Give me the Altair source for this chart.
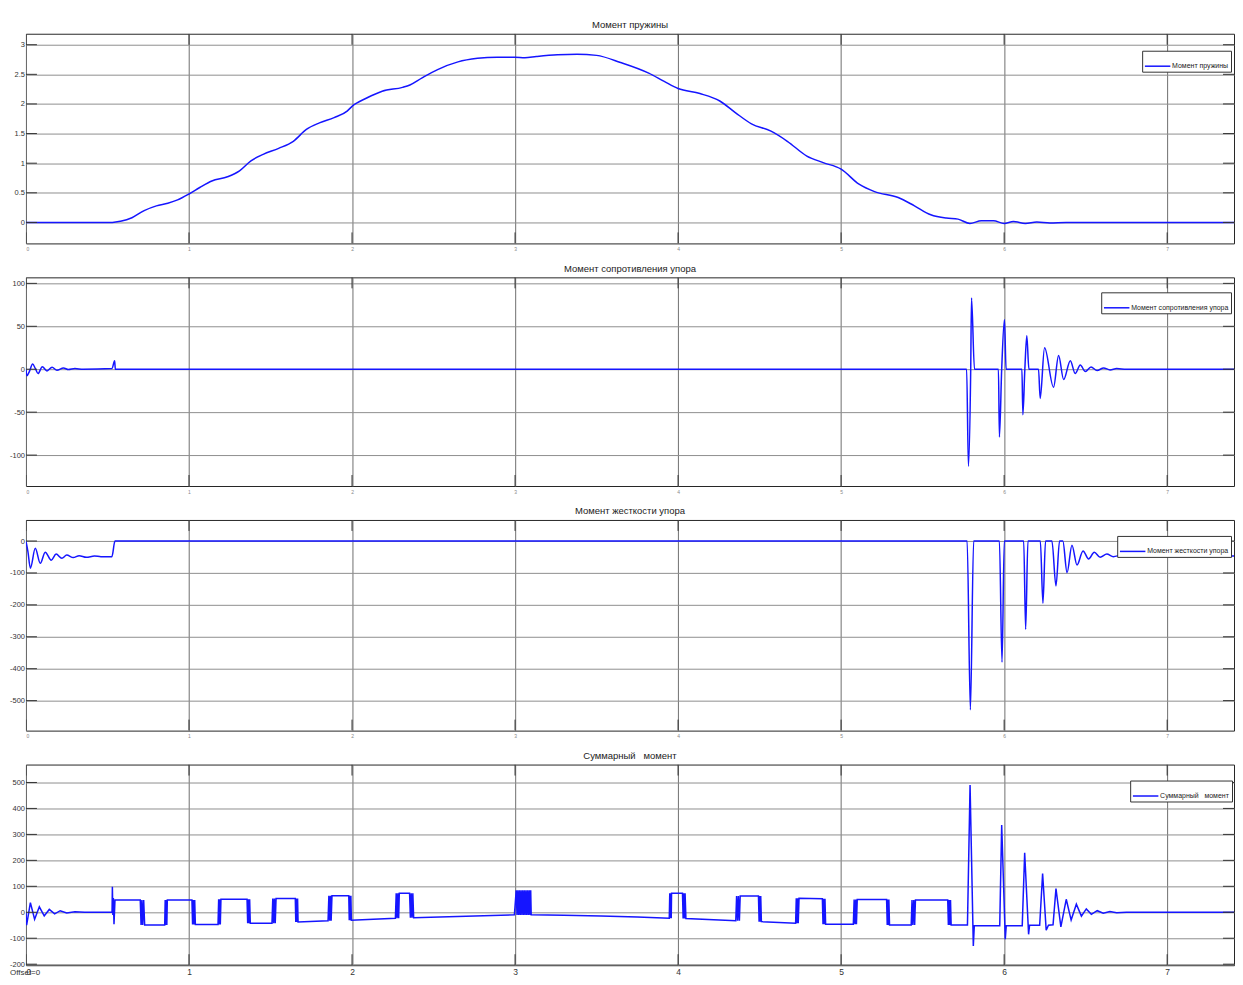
import altair as alt
import pandas as pd

FONT = "Liberation Sans, Arial, sans-serif"
BLUE = "#1515ff"
X_MAX = 7.41
W = 1210
X_TICKS = [0, 1, 2, 3, 4, 5, 6, 7]

# ---------------- Panel 1: Момент пружины ----------------
spring_t = [0.0, 0.53, 0.58, 0.65, 0.725, 0.80, 0.87, 0.93, 1.0, 1.066, 1.14, 1.236, 1.31, 1.38,
            1.455, 1.55, 1.64, 1.72, 1.80, 1.89, 1.97, 2.0, 2.09, 2.185, 2.31, 2.355, 2.43, 2.525,
            2.65, 2.77, 2.89, 3.0, 3.06, 3.13, 3.26, 3.38, 3.5, 3.647, 3.82, 3.915, 4.0, 4.134,
            4.256, 4.353, 4.45, 4.57, 4.67, 4.79, 4.89, 5.0, 5.11, 5.205, 5.35, 5.45, 5.55, 5.645,
            5.717, 5.79, 5.86, 5.935, 6.0, 6.057, 6.13, 6.2, 6.28, 6.38, 7.5]
spring_v = [0.0, 0.0, 0.02, 0.08, 0.2, 0.28, 0.325, 0.38, 0.48, 0.59, 0.70, 0.77, 0.87, 1.04,
            1.15, 1.25, 1.37, 1.57, 1.68, 1.77, 1.88, 1.96, 2.10, 2.215, 2.28, 2.32, 2.44, 2.58,
            2.71, 2.77, 2.79, 2.79, 2.78, 2.80, 2.83, 2.84, 2.82, 2.70, 2.52, 2.38, 2.26, 2.175,
            2.05, 1.85, 1.665, 1.54, 1.37, 1.12, 1.01, 0.90, 0.645, 0.52, 0.42, 0.28, 0.13, 0.073,
            0.056, -0.017, 0.028, 0.028, -0.017, 0.017, -0.017, 0.006, -0.01, 0.0, 0.0]

# ---------------- Panel 2: Момент сопротивления упора ----------------
resist_t = [0.0, 0.006, 0.020, 0.041, 0.057, 0.074, 0.100, 0.129, 0.160, 0.190, 0.230, 0.260,
            0.300, 0.350, 0.528, 0.538, 0.544, 0.548, 5.770, 5.781, 5.795, 5.800, 5.818, 5.965,
            5.971, 5.985, 6.002, 6.012, 6.109, 6.115, 6.127, 6.139, 6.152, 6.211, 6.221, 6.248,
            6.303, 6.334, 6.365, 6.406, 6.436, 6.467, 6.498, 6.533, 6.570, 6.610, 6.650, 6.690,
            6.750, 7.5]
resist_v = [0.0, -7.7, -3.0, 6.0, 1.0, -5.0, 3.0, -2.0, 2.3, -1.2, 1.5, -0.4,
            0.8, 0.0, 0.8, 7.0, 10.0, 0.0, 0.0, -113.0, 0.0, 83.0, 0.0, 0.0,
            -79.0, 0.0, 58.0, 0.0, 0.0, -53.0, 0.0, 39.0, 0.0, 0.0, -34.0, 25.0,
            -21.0, 16.0, -12.0, 10.0, -5.0, 5.0, -2.7, 2.7, -1.5, 1.5, -0.8, 0.8,
            0.0, 0.0]

# ---------------- Panel 3: Момент жесткости упора ----------------
stiff_t = [0.0, 0.012, 0.027, 0.057, 0.088, 0.118, 0.155, 0.185, 0.22, 0.25, 0.29, 0.326, 0.37,
           0.42, 0.46, 0.527, 0.546, 5.773, 5.793, 5.813, 5.971, 5.987, 6.001, 6.120, 6.132,
           6.146, 6.222, 6.238, 6.254, 6.293, 6.318, 6.340, 6.360, 6.386, 6.416, 6.447, 6.484,
           6.518, 6.553, 6.589, 6.630, 6.670, 6.720, 6.770, 6.850, 7.5]
stiff_v = [0.0, -33.0, -85.0, -23.0, -70.0, -35.0, -60.0, -41.0, -54.0, -44.0, -52.0, -46.0, -51.0,
           -47.0, -49.0, -49.0, 0.0, 0.0, -529.0, 0.0, 0.0, -380.0, 0.0, 0.0, -277.0,
           0.0, 0.0, -195.0, 0.0, 0.0, -141.0, 0.0, 0.0, -99.0, -13.0, -75.0, -31.0,
           -56.0, -35.0, -51.0, -41.0, -49.0, -44.0, -48.0, -46.0, -47.0]

# ---------------- Panel 4: Суммарный момент ----------------
total_t = [
    0.000, 0.004, 0.027, 0.053, 0.082, 0.112, 0.143, 0.176, 0.210, 0.250, 0.300, 0.360, 0.528,
    0.530, 0.533, 0.536, 0.540, 0.546,
    0.701, 0.706, 0.711, 0.716, 0.722, 0.728,
    0.851, 0.854, 0.857, 0.861, 0.864, 0.867,
    1.018, 1.022, 1.026, 1.031, 1.035, 1.039,
    1.178, 1.182, 1.185, 1.189, 1.192, 1.196,
    1.356, 1.360, 1.364, 1.368, 1.372, 1.376,
    1.509, 1.514, 1.519, 1.524, 1.529, 1.534,
    1.652, 1.655, 1.659, 1.662, 1.666, 1.669,
    1.853, 1.858, 1.863, 1.868, 1.872, 1.877,
    1.980, 1.983, 1.987, 1.990, 1.993, 1.996,
    2.266, 2.271, 2.276, 2.281, 2.286, 2.290,
    2.353, 2.358, 2.363, 2.368, 2.373, 2.378,
    2.700, 2.996,
    3.007, 3.012, 3.017, 3.022, 3.027, 3.032, 3.037, 3.042, 3.047, 3.052,
    3.057, 3.062, 3.067, 3.072, 3.077, 3.082, 3.087, 3.092, 3.096, 3.099,
    3.300, 3.527, 3.750, 3.946,
    3.949, 3.952, 3.955, 3.958, 3.960,
    4.027, 4.031, 4.035, 4.039, 4.043, 4.048,
    4.354, 4.359, 4.365, 4.370, 4.376, 4.381,
    4.493, 4.497, 4.500, 4.504, 4.507, 4.511,
    4.721, 4.725, 4.729, 4.733, 4.737, 4.742,
    4.885, 4.889, 4.893, 4.897, 4.901, 4.905,
    5.075, 5.080, 5.085, 5.090, 5.094, 5.099,
    5.279, 5.283, 5.286, 5.290, 5.293, 5.297,
    5.430, 5.435, 5.440, 5.446, 5.451, 5.456,
    5.654, 5.658, 5.662, 5.667, 5.671, 5.675,
    5.775, 5.791, 5.811, 5.817, 5.973, 5.985, 6.007, 6.013, 6.111, 6.126, 6.150, 6.156,
    6.218, 6.236, 6.258, 6.272, 6.300, 6.318, 6.348, 6.381, 6.411, 6.443, 6.474, 6.504,
    6.535, 6.571, 6.608, 6.649, 6.690, 6.750, 7.500]
total_v = [
    0, -50, 37, -27, 21, -14, 11, -6, 6, -3, 2, 0, 0,
    98, -10, 55, -46, 47,
    47, -49, 47, -49, 47, -49,
    -49, 47, -49, 47, -49, 47,
    47, -47, 47, -47, 47, -47,
    -47, 50, -47, 50, -47, 50,
    50, -42, 50, -42, 50, -42,
    -42, 53, -42, 53, -42, 53,
    53, -37, 53, -37, 53, -37,
    -33, 64, -33, 64, -33, 64,
    64, -31, 64, -31, 64, -31,
    -23, 73, -23, 73, -23, 73,
    73, -21, 73, -21, 73, -21,
    -15, -10,
    85, -10, 85, -10, 85, -10, 85, -10, 85, -10,
    85, -10, 85, -10, 85, -10, 85, -10, 85, -10,
    -11, -14, -18, -23,
    73, -23, 73, -23, 73,
    73, -24, 73, -24, 73, -24,
    -33, 63, -33, 63, -33, 63,
    63, -36, 63, -36, 63, -36,
    -42, 54, -42, 54, -42, 54,
    52, -46, 52, -46, 52, -46,
    -46, 49, -46, 49, -46, 49,
    49, -49, 49, -49, 49, -49,
    -49, 47, -49, 47, -49, 47,
    47, -49, 47, -49, 47, -49,
    -49, 490, -130, -52, -52, 336, -104, -52, -52, 229, -85, -50,
    -50, 149, -69, -50, -48, 91, -56, 50, -30, 31, -15, 13,
    -8, 6, -4, 2.5, -1.5, 0, 0]

MINUS_FIX = "replace(datum.label, '\u2212', '-')"
TICK_LEN = 11


def panel(t, v, name, ydom, yticks, yfmt, h, lx, ly, bottom, interp):
    df = pd.DataFrame({"t": t, "v": v, "s": [name] * len(t), "i": list(range(len(t)))})
    xscale = alt.Scale(domain=[0, X_MAX], nice=False, zero=False)
    yscale = alt.Scale(domain=ydom, nice=False, zero=False)
    if bottom:
        xaxis = alt.Axis(values=X_TICKS, title=None, grid=True, ticks=False, domain=False,
                         labelFontSize=8.5, labelPadding=2, labelColor="#333333", labelFont=FONT)
    else:
        xaxis = alt.Axis(values=X_TICKS, title=None, grid=True, ticks=False, domain=False,
                         labelFontSize=5, labelPadding=3, labelColor="#888888", labelFont=FONT)
    yaxis = alt.Axis(values=yticks, title=None, format=yfmt, ticks=False, domain=False,
                     labelFontSize=7.5, labelPadding=1.5, labelColor="#333333",
                     labelFont=FONT, labelExpr=MINUS_FIX)
    # inner tick marks on all four sides (as in the scope window)
    ydf = pd.DataFrame({"t": [0.0] * len(yticks), "v": yticks})
    xdf = pd.DataFrame({"t": X_TICKS, "v": [0.0] * len(X_TICKS)})
    ytick_l = alt.Chart(ydf).mark_rule(color="#333333", strokeWidth=1).encode(
        y=alt.Y("v:Q", scale=yscale, axis=yaxis), x=alt.value(0), x2=alt.value(TICK_LEN))
    ytick_r = alt.Chart(ydf).mark_rule(color="#333333", strokeWidth=1).encode(
        y=alt.Y("v:Q", scale=yscale, axis=yaxis), x=alt.value(W - TICK_LEN), x2=alt.value(W))
    xtick_b = alt.Chart(xdf).mark_rule(color="#333333", strokeWidth=1, clip=True).encode(
        x=alt.X("t:Q", scale=xscale, axis=xaxis), y=alt.value(h - TICK_LEN), y2=alt.value(h))
    xtick_t = alt.Chart(xdf).mark_rule(color="#333333", strokeWidth=1, clip=True).encode(
        x=alt.X("t:Q", scale=xscale, axis=xaxis), y=alt.value(0), y2=alt.value(TICK_LEN))
    line = alt.Chart(df).mark_line(strokeWidth=1.5, clip=True, interpolate=interp).encode(
        x=alt.X("t:Q", scale=xscale, axis=xaxis),
        y=alt.Y("v:Q", scale=yscale, axis=yaxis),
        color=alt.Color("s:N", scale=alt.Scale(domain=[name], range=[BLUE]),
                        legend=alt.Legend(title=None, orient="none", legendX=lx, legendY=ly,
                                          strokeColor="#333333", fillColor="white", padding=2,
                                          symbolType="stroke", symbolStrokeWidth=1.5,
                                          symbolSize=650, labelFont=FONT, labelFontSize=7,
                                          labelColor="#222222", labelOffset=1)),
        order=alt.Order("i:Q"),
    )
    layers = [line, ytick_l, ytick_r, xtick_b, xtick_t]
    if bottom:
        note = alt.Chart(pd.DataFrame({"txt": ["Offset=0"]})).mark_text(
            font=FONT, fontSize=8, align="left", baseline="middle", color="#333333"
        ).encode(text="txt:N", x=alt.value(-16), y=alt.value(h + 8))
        layers.append(note)
    return alt.layer(*layers).properties(
        width=W, height=h,
        title=alt.TitleParams(name, font=FONT, fontSize=9.5, fontWeight="normal",
                              color="#222222", offset=4, anchor="middle"),
    )


p1 = panel(spring_t, spring_v, "Момент пружины",
           [-0.354, 3.185], [0, 0.5, 1, 1.5, 2, 2.5, 3], "~g", 210, 1118, 17, False, "monotone")
p2 = panel(resist_t, resist_v, "Момент сопротивления упора",
           [-136, 107], [-100, -50, 0, 50, 100], "d", 209, 1077, 15, False, "monotone")
p3 = panel(stiff_t, stiff_v, "Момент жесткости упора",
           [-594, 66], [-500, -400, -300, -200, -100, 0], "d", 211, 1093, 16, False, "monotone")
p4 = panel(total_t, total_v, "Суммарный\u00a0\u00a0 момент",
           [-204, 569], [-200, -100, 0, 100, 200, 300, 400, 500], "d", 201, 1106, 16, True,
           "linear")

chart = alt.vconcat(p1, p2, p3, p4, spacing=34, bounds="flush").resolve_scale(
    color="independent"
).properties(
    padding={"left": 0, "top": 11, "right": 0, "bottom": 0},
    background="white",
).configure_view(
    stroke="#262626", strokeWidth=1
).configure_axis(
    gridColor="#8f8f8f", gridWidth=1
).configure_axisX(
    gridColor="#6f6f6f"
)

chart.save("out.html", embed_options={"renderer": "svg", "actions": False})
